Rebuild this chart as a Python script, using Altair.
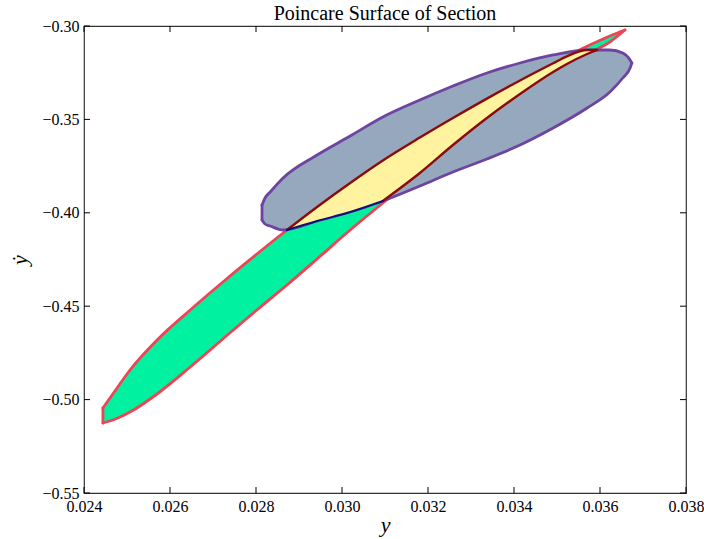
import altair as alt
import pandas as pd

# ---- axis ticks ----
x_ticks = [0.024, 0.026, 0.028, 0.030, 0.032, 0.034, 0.036, 0.038]
y_ticks = [-0.55, -0.50, -0.45, -0.40, -0.35, -0.30]

# ---- green (mint) region ----
green_x = [0.02444, 0.02467, 0.02507, 0.02570, 0.02647, 0.02723, 0.02802, 0.02872,
           0.02942, 0.03019, 0.03095, 0.03181, 0.03258, 0.03337, 0.03414, 0.03491,
           0.03570, 0.03623, 0.03658]
green_top = [-0.50450, -0.49700, -0.48415, -0.46809, -0.45203, -0.43704, -0.42206, -0.40921,
             -0.39689, -0.38405, -0.37200, -0.35974, -0.34925, -0.33887, -0.32918, -0.31997,
             -0.31087, -0.30535, -0.30214]
green_bottom = [-0.51253, -0.51092, -0.50664, -0.49700, -0.48255, -0.46756, -0.45203, -0.43865,
                -0.42473, -0.40921, -0.39475, -0.37869, -0.36370, -0.34925, -0.33640, -0.32463,
                -0.31499, -0.30857, -0.30214]

# ---- slate-blue region ----
blue_x = [0.02814, 0.02821, 0.02833, 0.02863, 0.02942, 0.03019, 0.03095, 0.03181, 0.03258,
          0.03337, 0.03414, 0.03491, 0.03570, 0.03623, 0.03653, 0.03670, 0.03674]
blue_top = [-0.39582, -0.39208, -0.38886, -0.38137, -0.36906, -0.35889, -0.34871, -0.33961,
            -0.33212, -0.32516, -0.31981, -0.31552, -0.31285, -0.31285, -0.31445, -0.31820,
            -0.31981]
blue_bottom = [-0.40385, -0.40600, -0.40707, -0.40921, -0.40439, -0.39957, -0.39368, -0.38565,
               -0.37816, -0.37120, -0.36370, -0.35460, -0.34390, -0.33533, -0.32784, -0.32248,
               -0.31981]

# ---- yellow overlap ----
yellow_x = [0.02872, 0.02942, 0.03019, 0.03095, 0.03181, 0.03258, 0.03337, 0.03414,
            0.03491, 0.03523, 0.03570, 0.03593]
yellow_top = [-0.40921, -0.39689, -0.38405, -0.37200, -0.35974, -0.34925, -0.33887, -0.32918,
              -0.31997, -0.31622, -0.31285, -0.31285]
yellow_bottom = [-0.40921, -0.40439, -0.39957, -0.39368, -0.37869, -0.36370, -0.34925, -0.33640,
                 -0.32463, -0.32034, -0.31499, -0.31285]
yellow_navy_points = 4  # first points of the yellow lower edge lie on the blue edge

W, H = 602, 467
FONT = "Liberation Serif"


def band(xs, tops, bots):
    return pd.DataFrame({"x": xs, "top": tops, "bottom": bots})


def edge(xs, ys):
    return pd.DataFrame({"x": xs, "y": ys})


xscale = alt.Scale(domain=[0.024, 0.038], nice=False, zero=False)
yscale = alt.Scale(domain=[-0.55, -0.30], nice=False, zero=False)
common_axis = dict(ticks=False, grid=False, domain=False, labelFlush=False,
                   labelOverlap=False, labelPadding=5, labelFontSize=16, labelFont=FONT,
                   titleFont=FONT, titleFontSize=22, titleFontStyle="italic",
                   titleFontWeight="normal", labelColor="#000", titleColor="#000")
xaxis = alt.Axis(values=x_ticks, format=".3f", titlePadding=0, **common_axis)
yaxis = alt.Axis(values=y_ticks, format=".2f", titlePadding=10, **common_axis)


def X(field="x"):
    return alt.X(f"{field}:Q", scale=xscale, axis=xaxis, title="y")


def Y(field="y"):
    return alt.Y(f"{field}:Q", scale=yscale, axis=yaxis, title="ẏ")


def area(df, color):
    return alt.Chart(df).mark_area(color=color, opacity=1, interpolate="monotone").encode(
        x=X(), y=Y("top"), y2="bottom:Q")


def line(df, color, width=2.8):
    return alt.Chart(df).mark_line(color=color, strokeWidth=width, strokeJoin="round",
                                   strokeCap="round", interpolate="monotone").encode(
        x=X(), y=Y())


def rule_v(x0, y0, y1, color, width=2.8):
    df = pd.DataFrame({"x": [x0], "y": [y0], "y2": [y1]})
    return alt.Chart(df).mark_rule(color=color, strokeWidth=width, strokeCap="round").encode(
        x=X(), y=Y(), y2="y2:Q")


RED = "#EE4455"
PURPLE = "#6E44A0"
DARKRED = "#8B0A0A"
NAVY = "#10107A"

n = yellow_navy_points
layers = [
    area(band(green_x, green_top, green_bottom), "#00F2A0"),
    line(edge(green_x, green_top), RED),
    line(edge(green_x, green_bottom), RED),
    rule_v(green_x[0], green_top[0], green_bottom[0], RED),
    area(band(blue_x, blue_top, blue_bottom), "#95A8BE"),
    line(edge(blue_x, blue_top), PURPLE),
    line(edge(blue_x, blue_bottom), PURPLE),
    rule_v(blue_x[0], blue_top[0], blue_bottom[0], PURPLE),
    area(band(yellow_x, yellow_top, yellow_bottom), "#FFF3A0"),
    line(edge(yellow_x, yellow_top), DARKRED, 2.4),
    line(edge(yellow_x[n - 1:], yellow_bottom[n - 1:]), DARKRED, 2.4),
    line(edge(yellow_x[:n], yellow_bottom[:n]), NAVY, 2.0),
]

xt = pd.DataFrame({"x": x_ticks})
yt = pd.DataFrame({"y": y_ticks})
tick_len = 6
layers += [
    alt.Chart(xt).mark_rule(color="#000", strokeWidth=1).encode(
        x=X(), y=alt.value(H), y2=alt.value(H - tick_len)),
    alt.Chart(xt).mark_rule(color="#000", strokeWidth=1).encode(
        x=X(), y=alt.value(0), y2=alt.value(tick_len)),
    alt.Chart(yt).mark_rule(color="#000", strokeWidth=1).encode(
        y=Y(), x=alt.value(0), x2=alt.value(tick_len)),
    alt.Chart(yt).mark_rule(color="#000", strokeWidth=1).encode(
        y=Y(), x=alt.value(W), x2=alt.value(W - tick_len)),
]

chart = alt.layer(*layers).properties(
    width=W, height=H,
    title=alt.TitleParams("Poincare Surface of Section", font=FONT, fontSize=20,
                          fontWeight="normal", color="#000", offset=-6),
    autosize="none",
    padding={"left": 84, "top": 26, "right": 18, "bottom": 46},
    background="white",
).configure_view(
    stroke="#333", strokeWidth=1.2
)

chart.save("out.html", embed_options={"renderer": "svg", "actions": False})
